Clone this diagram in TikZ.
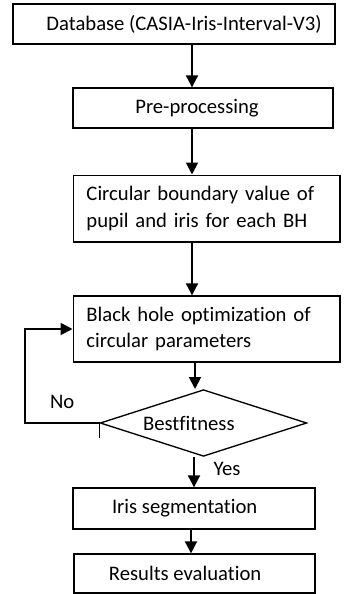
\documentclass[tikz,border=0pt]{standalone}
\usepackage{fontspec}
\setmainfont{Carlito}[Ligatures=CommonOff]
\usetikzlibrary{arrows.meta,positioning,shapes.geometric}

\begin{document}
\begin{tikzpicture}[
    x=0.75pt, y=-0.75pt,
    >={Triangle[length=9pt,width=9pt]},
    font=\fontsize{15.5}{20}\selectfont,
    block/.style={
		rectangle,
		draw=black,
		line width=1pt,
		text centered,
		inner sep=0pt,
		fill=white
	},
	twoline/.style={
		block,
		align=left,
		text width=180pt,
		inner xsep=10pt
	},
	decision/.style={
		diamond,
		aspect=3.1,
		draw=black,
		line width=1pt,
		inner sep=0pt,
		minimum width=155pt,
		minimum height=50pt
	},
	flow/.style={
		->,
		line width=1.4pt
	},
	label/.style={
		inner sep=0pt
	}
  ]
  \useasboundingbox (0,0) rectangle (345,594);

  % the blocks, top to bottom
  \node [block, minimum width=241.5pt, minimum height=30pt] (db) at (174,24)
    {\hspace*{15pt}Database (CASIA-Iris-Interval-V3)};
  \node [block, minimum width=195pt, minimum height=30pt] (pre) at (203,108)
    {Pre-processing\hspace*{9pt}};
  \node [twoline, minimum height=50pt] (circ) at (206.5,208.5)
    {Circular boundary value of\\pupil and iris for each BH};
  \node [twoline, minimum height=49.5pt] (bh) at (206.5,329)
    {Black hole optimization of\\circular parameters};
  \node [decision] (fit) at (203.5,423) {\makebox[0pt]{Bestfitness\hspace*{22pt}}};
  \node [block, minimum width=181.5pt, minimum height=30.75pt] (seg) at (194,508.5)
    {Iris segmentation\hspace*{14pt}};
  \node [block, minimum width=180.75pt, minimum height=29.25pt] (res) at (194.5,573.5)
    {Results evaluation\hspace*{14pt}};

  % connectors
  \draw [flow] (db.south -| 192,0) -- (pre.north -| 192,0);
  \draw [flow] (pre.south -| 192,0) -- (circ.north -| 192,0);
  \draw [flow] (circ.south -| 192,0) -- (bh.north -| 192,0);
  \draw [flow] (bh.south -| 195,0) -- (fit.north -| 195,0);
  \draw [flow] (fit.south -| 194,0) -- node [label, pos=0.4, right=14pt] {Yes} (seg.north -| 194,0);
  \draw [flow] (seg.south -| 191,0) -- (res.north -| 191,0);
  \coordinate (back) at (25,423);
  \draw [flow] (fit.west) -- node [label, pos=0.5, above=10pt] {No} (back) |- (bh.west);
  \draw [line width=1pt] (fit.west) -- ++(0,15);

\end{tikzpicture}
\end{document}
